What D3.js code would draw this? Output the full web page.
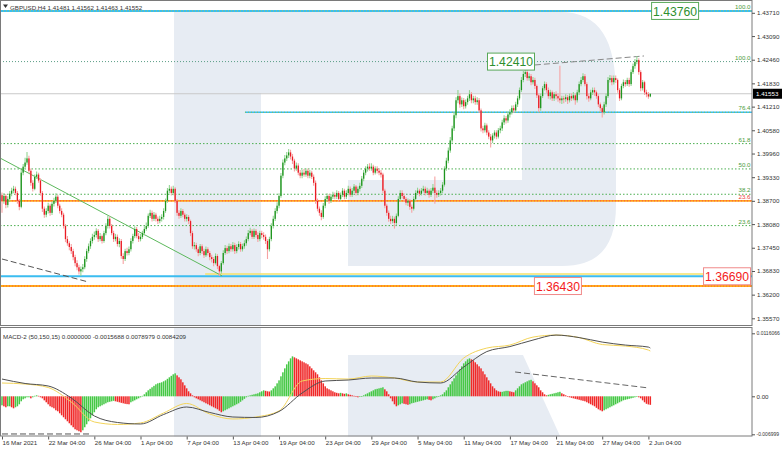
<!DOCTYPE html>
<html><head><meta charset="utf-8">
<script src="https://cdnjs.cloudflare.com/ajax/libs/d3/7.8.5/d3.min.js"></script>
<style>body{margin:0;background:#fff}svg{display:block}text{font-family:"Liberation Sans",Arial,sans-serif}</style>
</head><body><svg id="c" width="782" height="449"></svg>
<script>
// ---------------- DATA ----------------
const symbol = "GBPUSD,H4";
const lastOHLC = ["1.41481","1.41562","1.41463","1.41552"];
const macdTitle = "MACD-2 (50,150,15) 0.0000000 -0.0015688 0.0078979 0.0084209";
const firstOpen = 1.3885;
const closes = [
1.3870,1.3883,1.3859,1.3875,1.3889,1.3897,1.3902,1.3891,1.3870,1.3854,1.3945,1.3961,1.3972,1.3983,1.3950,1.3918,1.3902,1.3934,1.3940,1.3924,1.3891,1.3849,1.3833,1.3843,
1.3857,1.3838,1.3862,1.3870,1.3881,1.3857,1.3843,1.3833,1.3803,1.3768,1.3757,1.3747,1.3736,1.3720,1.3704,1.3693,1.3682,1.3688,1.3693,1.3715,1.3736,1.3749,1.3763,1.3774,
1.3779,1.3790,1.3768,1.3776,1.3763,1.3784,1.3803,1.3822,1.3803,1.3784,1.3768,1.3774,1.3755,1.3763,1.3723,1.3715,1.3736,1.3731,1.3741,1.3763,1.3776,1.3795,1.3776,1.3768,
1.3774,1.3784,1.3795,1.3803,1.3830,1.3838,1.3822,1.3833,1.3822,1.3816,1.3822,1.3827,1.3843,1.3870,1.3897,1.3902,1.3891,1.3902,1.3870,1.3838,1.3830,1.3843,1.3833,1.3822,
1.3827,1.3816,1.3784,1.3749,1.3752,1.3741,1.3731,1.3749,1.3736,1.3725,1.3741,1.3731,1.3720,1.3715,1.3704,1.3723,1.3696,1.3682,1.3704,1.3731,1.3744,1.3736,1.3749,1.3741,
1.3752,1.3736,1.3747,1.3755,1.3741,1.3749,1.3757,1.3768,1.3784,1.3790,1.3774,1.3790,1.3779,1.3768,1.3784,1.3779,1.3774,1.3763,1.3741,1.3768,1.3803,1.3822,1.3843,1.3857,
1.3883,1.3937,1.3972,1.3983,1.3991,1.3999,1.3988,1.3977,1.3956,1.3964,1.3945,1.3937,1.3945,1.3940,1.3950,1.3937,1.3945,1.3934,1.3918,1.3870,1.3849,1.3838,1.3827,1.3857,
1.3875,1.3883,1.3870,1.3881,1.3886,1.3881,1.3891,1.3875,1.3886,1.3897,1.3881,1.3891,1.3902,1.3886,1.3897,1.3908,1.3891,1.3902,1.3910,1.3929,1.3945,1.3956,1.3961,1.3956,
1.3961,1.3945,1.3956,1.3950,1.3945,1.3940,1.3897,1.3857,1.3838,1.3822,1.3816,1.3822,1.3811,1.3830,1.3875,1.3891,1.3883,1.3875,1.3865,1.3870,1.3854,1.3849,1.3875,1.3891,
1.3897,1.3889,1.3897,1.3902,1.3891,1.3897,1.3886,1.3897,1.3905,1.3891,1.3886,1.3891,1.3897,1.3913,1.3956,1.3977,1.4004,1.4031,1.4063,1.4098,1.4138,1.4149,1.4127,1.4138,
1.4122,1.4133,1.4143,1.4154,1.4138,1.4143,1.4133,1.4138,1.4111,1.4063,1.4058,1.4071,1.4052,1.4041,1.4031,1.4044,1.4052,1.4041,1.4058,1.4063,1.4079,1.4090,1.4084,1.4100,
1.4106,1.4117,1.4111,1.4127,1.4143,1.4165,1.4192,1.4208,1.4213,1.4197,1.4202,1.4186,1.4192,1.4176,1.4151,1.4117,1.4149,1.4170,1.4181,1.4165,1.4149,1.4159,1.4143,1.4154,
1.4149,1.4143,1.4138,1.4143,1.4141,1.4146,1.4138,1.4149,1.4143,1.4151,1.4138,1.4159,1.4181,1.4192,1.4202,1.4181,1.4149,1.4143,1.4159,1.4165,1.4159,1.4149,1.4127,1.4117,
1.4106,1.4127,1.4149,1.4192,1.4197,1.4186,1.4197,1.4192,1.4165,1.4143,1.4176,1.4186,1.4181,1.4192,1.4181,1.4213,1.4229,1.4240,1.4245,1.4213,1.4170,1.4186,1.4159,1.4154,1.4148,1.41552];
const highs = [
1.3892,1.3890,1.3888,1.3882,1.3896,1.3905,1.3910,1.3908,1.3896,1.3875,1.3952,1.3968,1.3985,1.4000,1.3990,1.3956,1.3925,1.3940,1.3948,1.3945,1.3930,1.3896,1.3855,1.3850,
1.3865,1.3862,1.3868,1.3878,1.3890,1.3886,1.3862,1.3850,1.3838,1.3808,1.3776,1.3762,1.3755,1.3742,1.3726,1.3712,1.3700,1.3695,1.3702,1.3722,1.3742,1.3756,1.3770,1.3782,
1.3788,1.3797,1.3795,1.3784,1.3780,1.3790,1.3810,1.3830,1.3828,1.3808,1.3790,1.3782,1.3780,1.3770,1.3768,1.3730,1.3742,1.3745,1.3748,1.3770,1.3782,1.3802,1.3800,1.3784,
1.3782,1.3790,1.3802,1.3812,1.3836,1.3846,1.3844,1.3840,1.3838,1.3828,1.3830,1.3834,1.3850,1.3876,1.3904,1.3912,1.3908,1.3910,1.3906,1.3875,1.3845,1.3850,1.3848,1.3838,
1.3834,1.3832,1.3820,1.3790,1.3760,1.3758,1.3746,1.3755,1.3754,1.3742,1.3748,1.3746,1.3736,1.3726,1.3720,1.3730,1.3728,1.3700,1.3710,1.3738,1.3752,1.3750,1.3756,1.3755,
1.3760,1.3758,1.3754,1.3762,1.3760,1.3756,1.3765,1.3775,1.3792,1.3798,1.3795,1.3796,1.3795,1.3786,1.3790,1.3790,1.3786,1.3780,1.3768,1.3774,1.3810,1.3830,1.3850,1.3866,
1.3890,1.3944,1.3980,1.3992,1.4000,1.4008,1.4006,1.3995,1.3982,1.3972,1.3970,1.3952,1.3952,1.3955,1.3957,1.3956,1.3952,1.3950,1.3940,1.3924,1.3876,1.3855,1.3845,1.3864,
1.3882,1.3890,1.3888,1.3888,1.3894,1.3892,1.3898,1.3896,1.3892,1.3904,1.3902,1.3898,1.3910,1.3908,1.3904,1.3915,1.3912,1.3908,1.3918,1.3936,1.3952,1.3962,1.3968,1.3970,
1.3970,1.3966,1.3962,1.3962,1.3956,1.3952,1.3945,1.3902,1.3862,1.3844,1.3830,1.3830,1.3828,1.3836,1.3882,1.3898,1.3898,1.3890,1.3880,1.3876,1.3875,1.3860,1.3882,1.3898,
1.3905,1.3902,1.3904,1.3910,1.3908,1.3905,1.3902,1.3904,1.3915,1.3935,1.3898,1.3898,1.3904,1.3920,1.3962,1.3985,1.4012,1.4040,1.4070,1.4106,1.4146,1.4165,1.4156,1.4145,
1.4144,1.4140,1.4150,1.4165,1.4160,1.4150,1.4150,1.4146,1.4144,1.4116,1.4070,1.4078,1.4076,1.4058,1.4048,1.4050,1.4058,1.4058,1.4064,1.4070,1.4086,1.4098,1.4096,1.4108,
1.4114,1.4124,1.4125,1.4134,1.4150,1.4172,1.4200,1.4216,1.4224,1.4220,1.4210,1.4208,1.4200,1.4198,1.4180,1.4156,1.4156,1.4176,1.4188,1.4186,1.4172,1.4166,1.4164,1.4160,
1.4162,1.4156,1.4230,1.4150,1.4150,1.4154,1.4152,1.4156,1.4156,1.4160,1.4156,1.4166,1.4188,1.4200,1.4210,1.4208,1.4186,1.4156,1.4166,1.4172,1.4172,1.4164,1.4154,1.4132,
1.4122,1.4134,1.4156,1.4200,1.4205,1.4204,1.4204,1.4204,1.4196,1.4170,1.4182,1.4193,1.4192,1.4198,1.4198,1.4220,1.4236,1.4248,1.4256,1.4250,1.4218,1.4192,1.4190,1.4166,1.4160,1.41562];
const lows = [
1.3838,1.3862,1.3850,1.3852,1.3868,1.3882,1.3890,1.3885,1.3862,1.3845,1.3850,1.3938,1.3955,1.3966,1.3944,1.3910,1.3895,1.3898,1.3928,1.3918,1.3884,1.3840,1.3825,1.3826,
1.3836,1.3830,1.3832,1.3855,1.3864,1.3850,1.3836,1.3826,1.3796,1.3760,1.3750,1.3738,1.3728,1.3712,1.3696,1.3685,1.3674,1.3670,1.3680,1.3688,1.3708,1.3730,1.3742,1.3756,
1.3766,1.3772,1.3760,1.3762,1.3756,1.3758,1.3778,1.3796,1.3796,1.3778,1.3760,1.3762,1.3748,1.3746,1.3716,1.3702,1.3710,1.3724,1.3725,1.3735,1.3756,1.3770,1.3770,1.3760,
1.3762,1.3768,1.3778,1.3790,1.3798,1.3824,1.3815,1.3816,1.3815,1.3808,1.3810,1.3815,1.3820,1.3838,1.3865,1.3890,1.3884,1.3885,1.3864,1.3830,1.3822,1.3824,1.3826,1.3815,
1.3815,1.3808,1.3776,1.3742,1.3740,1.3734,1.3722,1.3725,1.3728,1.3718,1.3720,1.3724,1.3712,1.3706,1.3696,1.3700,1.3688,1.3670,1.3676,1.3700,1.3726,1.3728,1.3730,1.3734,
1.3735,1.3728,1.3730,1.3740,1.3734,1.3735,1.3742,1.3750,1.3762,1.3778,1.3768,1.3768,1.3772,1.3760,1.3762,1.3770,1.3766,1.3755,1.3715,1.3735,1.3762,1.3796,1.3816,1.3836,
1.3850,1.3878,1.3930,1.3965,1.3976,1.3984,1.3980,1.3968,1.3948,1.3950,1.3938,1.3930,1.3930,1.3934,1.3934,1.3930,1.3930,1.3928,1.3910,1.3862,1.3842,1.3830,1.3818,1.3822,
1.3850,1.3868,1.3862,1.3864,1.3875,1.3874,1.3875,1.3868,1.3870,1.3880,1.3874,1.3875,1.3885,1.3880,1.3880,1.3890,1.3884,1.3885,1.3895,1.3904,1.3922,1.3938,1.3948,1.3950,
1.3950,1.3938,1.3940,1.3943,1.3938,1.3932,1.3890,1.3850,1.3830,1.3814,1.3808,1.3810,1.3796,1.3805,1.3826,1.3868,1.3876,1.3868,1.3858,1.3856,1.3846,1.3838,1.3844,1.3870,
1.3886,1.3882,1.3884,1.3892,1.3884,1.3886,1.3878,1.3880,1.3890,1.3862,1.3878,1.3880,1.3884,1.3890,1.3908,1.3950,1.3970,1.3998,1.4025,1.4056,1.4090,1.4130,1.4118,1.4120,
1.4114,1.4116,1.4126,1.4136,1.4130,1.4130,1.4126,1.4126,1.4104,1.4055,1.4050,1.4052,1.4045,1.4034,1.4012,1.4024,1.4036,1.4034,1.4036,1.4050,1.4056,1.4072,1.4076,1.4078,
1.4092,1.4100,1.4104,1.4106,1.4120,1.4138,1.4160,1.4186,1.4200,1.4190,1.4190,1.4178,1.4180,1.4168,1.4144,1.4106,1.4110,1.4144,1.4164,1.4158,1.4142,1.4140,1.4136,1.4136,
1.4140,1.4134,1.4130,1.4128,1.4130,1.4134,1.4128,1.4132,1.4136,1.4138,1.4126,1.4132,1.4152,1.4175,1.4186,1.4175,1.4140,1.4134,1.4138,1.4152,1.4150,1.4142,1.4120,1.4108,
1.4092,1.4100,1.4120,1.4144,1.4185,1.4178,1.4180,1.4184,1.4158,1.4136,1.4138,1.4170,1.4174,1.4176,1.4174,1.4176,1.4208,1.4222,1.4234,1.4206,1.4162,1.4164,1.4152,1.4146,1.4142,1.41463];
const macdHist = [
-0.00166,-0.00184,-0.00202,-0.00184,-0.00184,-0.00202,-0.00221,-0.00202,-0.00184,-0.00147,
-0.00092,-0.00055,-0.00037,-0.00018,
-0.00018,-0.00037,-0.00018,0.00009,0.00018,0.00009,
-0.00018,-0.00037,-0.00074,-0.0011,-0.00147,-0.00184,-0.00202,-0.00221,-0.00258,-0.00276,-0.00313,-0.0035,-0.00386,-0.00423,-0.0046,-0.00497,-0.00534,-0.0057,-0.00607,-0.00626,-0.00644,-0.00662,
-0.00626,-0.0057,-0.00515,-0.0046,-0.00405,-0.0035,-0.00294,-0.00239,
-0.00202,-0.00184,-0.00166,-0.00147,-0.00129,-0.0011,-0.00101,-0.00092,-0.00083,
-0.00092,-0.00101,-0.0011,-0.0012,-0.00129,-0.00138,-0.00144,-0.00147,
-0.0011,-0.00092,-0.00074,-0.00055,-0.00037,-0.00018,
0.00009,0.00037,0.00074,0.0011,0.00138,0.00166,0.00193,0.00221,0.00239,0.00248,0.00258,0.00276,0.00294,0.00322,0.0035,0.00377,0.00405,0.00423,
0.00386,0.0035,0.00313,0.00258,0.00202,0.00147,0.00092,0.00055,0.00018,
-0.00018,-0.00037,-0.00055,-0.00074,-0.00092,-0.0011,-0.00129,-0.00147,-0.00166,-0.00184,-0.00202,-0.00221,-0.00239,-0.00267,-0.00294,
-0.00276,-0.00258,-0.00239,-0.00221,-0.00202,-0.00184,-0.00166,-0.00147,-0.00129,-0.00101,-0.00074,-0.00046,-0.00018,
0.00009,0.00018,0.00028,0.00037,0.00046,0.00055,0.00074,0.00092,0.0011,
0.00101,0.00092,0.00088,
0.0011,0.00147,0.00184,0.00239,0.00294,0.00368,0.00442,0.00515,0.00589,0.00644,0.00699,0.00736,
0.00718,0.00699,0.00681,0.00662,0.00644,0.00626,0.00607,0.00589,0.00552,0.00515,0.00478,0.00442,0.00405,0.0035,0.00294,0.00239,0.00184,0.00147,0.00129,0.0011,
0.00092,0.00074,0.00064,0.00055,0.00064,0.00055,0.00046,0.00055,0.00037,0.00028,
0.00018,0.00009,-0.00009,-0.00018,-0.00009,0,0.00018,
0.00037,0.00055,0.00074,0.00092,0.0011,0.00129,0.00138,0.00147,0.00156,0.00166,
0.00129,0.00092,0.00037,
-0.00037,-0.00092,-0.00147,-0.00184,-0.00166,-0.00147,-0.00129,-0.00138,-0.00147,-0.00156,-0.00147,
-0.00129,-0.0012,-0.0011,-0.00101,-0.00092,-0.00083,-0.00074,-0.00064,-0.00055,
-0.00064,-0.00074,-0.00055,-0.00037,-0.00018,0,0.00018,
0.00037,0.00074,0.0011,0.00166,0.00221,0.00276,0.00331,0.00386,0.00442,0.00497,0.00552,0.00607,0.00644,0.00681,0.00699,
0.00681,0.00662,0.00626,0.00589,0.00552,0.00515,0.0046,0.00405,0.0035,0.00294,0.00239,0.00184,0.00147,0.0011,0.00092,0.00083,
0.00083,0.00092,0.00101,0.00101,0.00092,0.00083,0.00074,
0.0011,0.00147,0.00184,0.00221,0.00239,0.00258,0.00276,0.00294,0.00304,
0.00276,0.00239,0.00202,0.00166,0.0011,0.00074,0.00037,0.00018,
0.00028,0.00037,0.00046,0.00055,0.00064,0.00074,0.00083,0.00055,
0.00037,0.00018,0,-0.00018,
-0.00028,-0.00037,-0.00046,-0.00055,-0.00064,-0.00074,-0.00083,-0.00092,-0.0011,-0.00129,-0.00147,-0.00166,-0.00184,-0.00212,-0.00239,-0.00258,-0.00276,
-0.00258,-0.00239,-0.00221,-0.00202,-0.00184,-0.00166,-0.00147,-0.00129,-0.0011,-0.00092,-0.00074,-0.00064,-0.00055,-0.00046,-0.00037,
-0.00028,-0.00018,-0.00009,-0.00018,
-0.00037,-0.00074,-0.0011,-0.00138,-0.0015,-0.00157];
const macdSampleBars = [0,12,24,36,48,60,72,84,96,108,120,132,144,156,168,180,192,204,216,228,240,252,264,276,288,300,312,324,336,337];
const macdMain = [0.00318,0.00236,0.0019,-0.00031,-0.00362,-0.00482,-0.0051,-0.00335,-0.00197,-0.00298,-0.00381,-0.0039,-0.0028,0.00061,0.00282,0.003,0.00337,0.00337,0.00263,0.00245,0.00539,0.00824,0.00916,0.01036,0.01128,0.01082,0.00999,0.00944,0.00907,0.00889];
const macdSignal = [0.00245,0.00226,0.00162,-0.00105,-0.00473,-0.00519,-0.00491,-0.00307,-0.00132,-0.00326,-0.00418,-0.00381,-0.0027,0.00282,0.00328,0.00318,0.00374,0.00337,0.00263,0.00263,0.00705,0.00889,0.00944,0.01091,0.01128,0.01082,0.00953,0.00926,0.00852,0.00834];
const timeTickBars = [0,24,48,72,96,120,144,168,192,216,240,264,288,312,336];
const timeLabels = ["16 Mar 2021","22 Mar 04:00","26 Mar 04:00","1 Apr 04:00","7 Apr 04:00","13 Apr 04:00","19 Apr 04:00","23 Apr 04:00","29 Apr 04:00","5 May 04:00","11 May 04:00","17 May 04:00","21 May 04:00","27 May 04:00","2 Jun 04:00"];
const priceTicks = [1.43710,1.43090,1.42460,1.41830,1.41210,1.40580,1.39960,1.39330,1.38700,1.38080,1.37450,1.36830,1.36200,1.35570];
const macdTicks = [0.0116066,0,-0.006999];
const macdTickLabels = ["0.0116066","0.00","-0.006999"];
const bidPrice = 1.41553;
const fibPrices = [1.43760,1.42410,1.41060,1.40225,1.39550,1.38875,1.38700,1.38040];
const fibLabels = ["100.0","100.0","76.4","61.8","50.0","38.2","23.6","23.6"];
const levelBoxes = [{bar:337.4,price:1.43760,text:"1.43760",kind:"g"},{bar:252.1,price:1.42410,text:"1.42410",kind:"g"},{bar:364.4,price:1.36690,text:"1.36690",kind:"r"},{bar:276.5,price:1.36430,text:"1.36430",kind:"r"}];
const trendGreen = {bars:[-1,114.4], prices:[1.3984,1.3670]};
const trendLowDash = {bars:[0,44.7], prices:[1.3715,1.3654]};
const trendTopDash = {bars:[277,333.7], prices:[1.4232,1.4256]};
const macdDashLow = {bars:[0,45.7], values:[-0.00694,-0.00694]};
const macdDashTop = {bars:[266.7,336.3], values:[0.00448,0.00153]};

// ---------------- DRAW ----------------
const svg = d3.select("#c");
const PR = 752, MAIN_B = 325, M_T = 328, M_B = 436.5;
const x = d3.scaleLinear().domain([0,336]).range([2,648.4]);
const y = d3.scaleLinear().domain([1.35570,1.43710]).range([318.3,12.8]);
const ym = d3.scaleLinear().domain([-0.006999,0.0116066]).range([434.3,333.3]);
const FS = 6.2;

const defs = svg.append("defs");
defs.append("clipPath").attr("id","cm").append("rect").attr("x",1).attr("y",1).attr("width",PR-1).attr("height",MAIN_B-1);
defs.append("clipPath").attr("id","cd").append("rect").attr("x",1).attr("y",M_T).attr("width",PR-1).attr("height",M_B-M_T);

svg.append("rect").attr("width",782).attr("height",449).attr("fill","#fff");

// watermark
const wmC = "#e7ecf3";
const wm1 = svg.append("g").attr("clip-path","url(#cm)");
wm1.append("rect").attr("x",174).attr("y",12).attr("width",87).attr("height",320).attr("fill",wmC);
wm1.append("path").attr("fill",wmC).attr("d","M261,12 H560 C600,12 616,40 616,95 V205 C616,245 600,266 562,266 H348 V180 H522 V93 H261 Z");
const wm2 = svg.append("g").attr("clip-path","url(#cd)");
wm2.append("rect").attr("x",174).attr("y",M_T).attr("width",87).attr("height",120).attr("fill",wmC);
wm2.append("path").attr("fill",wmC).attr("d","M348,355 H523 L566,449 H348 Z");

const gm = svg.append("g").attr("clip-path","url(#cm)");
const hline = (p, color, w, dash, x0) => gm.append("line").attr("x1",x0==null?0:x0).attr("x2",PR).attr("y1",y(p)).attr("y2",y(p))
  .attr("stroke",color).attr("stroke-width",w).attr("stroke-dasharray",dash||null);

// horizontal levels
hline(1.43760,"#3bbdf0",2);
hline(1.43760,"#9ccc65",1,"1,2");
hline(fibPrices[1],"#5b9e86",1,"1,2");
hline(bidPrice,"#c9c9c9",1);
hline(fibPrices[2],"#3bbdf0",1.6,null,x(126.3));
hline(fibPrices[2],"#8bc34a",1,"1,2",x(126.3));
[3,4,5,7].forEach(k=>hline(fibPrices[k],"#4caf50",1,"1.5,2"));
hline(fibPrices[6],"#ffa31a",1.6);
hline(fibPrices[6],"#ff4d4d",1,"1,2");
hline(1.3675,"#f4e26a",1.5,null,x(105.6));
hline(1.36690,"#3bbdf0",2);
hline(1.36430,"#ffab1a",2);
hline(1.36430,"#ff5a3c",1,"1,2");

// fib labels
fibPrices.forEach((p,i)=>{
  gm.append("text").attr("x",PR-1.5).attr("y",y(p)-1.8).attr("text-anchor","end")
    .attr("font-size",FS).attr("fill", i===6 ? "#f03c3c" : "#4c9c3c").text(fibLabels[i]);
});

// trend lines
const seg = (g, o, sy, color, w, dash) => g.append("line")
  .attr("x1",x(o.bars[0])).attr("x2",x(o.bars[1]))
  .attr("y1",sy((o.prices||o.values)[0])).attr("y2",sy((o.prices||o.values)[1]))
  .attr("stroke",color).attr("stroke-width",w).attr("stroke-dasharray",dash||null);
seg(gm, trendGreen, y, "#5cb85c", 1);
seg(gm, trendLowDash, y, "#555", 1, "6,3");
seg(gm, trendTopDash, y, "#888", 1, "6,3");

// candles
const opens = closes.map((c,i)=> i===0 ? firstOpen : closes[i-1]);
const candles = closes.map((c,i)=>({i, o:opens[i], h:highs[i], l:lows[i], c}));
const cg = gm.append("g");
cg.selectAll("line.w").data(candles).join("line")
  .attr("x1",d=>x(d.i)).attr("x2",d=>x(d.i)).attr("y1",d=>y(d.h)).attr("y2",d=>y(d.l))
  .attr("stroke",d=>d.c>=d.o?"#93d493":"#f6a3a3").attr("stroke-width",1.1);
cg.selectAll("rect").data(candles).join("rect")
  .attr("x",d=>x(d.i)-0.65).attr("width",1.3)
  .attr("y",d=>y(Math.max(d.o,d.c)))
  .attr("height",d=>Math.max(1,Math.abs(y(d.o)-y(d.c))))
  .attr("fill",d=>d.c>=d.o?"#1f951f":"#ea1b24");

// level boxes
levelBoxes.forEach(b=>{
  const g = svg.append("g");
  const bx = x(b.bar), cy = y(b.price);
  const stroke = b.kind==="g" ? "#58a858" : "#f08a8a";
  const fill = b.kind==="g" ? "#2e8f2e" : "#f41c1c";
  g.append("rect").attr("x",bx+0.5).attr("y",cy-8.5).attr("width",47).attr("height",17)
    .attr("fill","#fff").attr("stroke",stroke).attr("stroke-width",1);
  g.append("text").attr("x",bx+24).attr("y",cy+4.6).attr("text-anchor","middle")
    .attr("font-size",12.2).attr("fill",fill).text(b.text);
});

// MACD panel
const gd = svg.append("g").attr("clip-path","url(#cd)");
const y0 = ym(0);
gd.selectAll("rect").data(macdHist).join("rect")
  .attr("x",(v,i)=>x(i)-0.75).attr("width",1.5)
  .attr("y",v=>Math.min(ym(v),y0)).attr("height",v=>Math.max(0.6,Math.abs(ym(v)-y0)))
  .attr("fill",(v,i)=> (i===0 || v>=macdHist[i-1]) ? "#45c845" : "#f02828");
const ln = d3.line().x(d=>x(d[0])).y(d=>ym(d[1])).curve(d3.curveMonotoneX);
gd.append("path").attr("d",ln(macdSampleBars.map((b,i)=>[b,macdSignal[i]]))).attr("fill","none").attr("stroke","#f3d45a").attr("stroke-width",1);
gd.append("path").attr("d",ln(macdSampleBars.map((b,i)=>[b,macdMain[i]]))).attr("fill","none").attr("stroke","#505050").attr("stroke-width",1);
seg(gd, macdDashLow, ym, "#555", 1, "6,3");
seg(gd, macdDashTop, ym, "#666", 1, "6,3");

// borders
svg.append("rect").attr("x",0.5).attr("y",0.5).attr("width",PR-0.5).attr("height",MAIN_B).attr("fill","none").attr("stroke","#7a7a7a").attr("stroke-width",1);
svg.append("rect").attr("x",0.5).attr("y",M_T-0.5).attr("width",PR-0.5).attr("height",M_B-M_T).attr("fill","none").attr("stroke","#7a7a7a").attr("stroke-width",1);

// price axis
const pa = svg.append("g").attr("transform",`translate(${PR},0)`)
  .call(d3.axisRight(y).tickValues(priceTicks).tickSize(3).tickPadding(2).tickFormat(d3.format(".5f")));
pa.select(".domain").remove();
pa.selectAll("line").attr("stroke","#555");
pa.selectAll("text").attr("font-size",FS).attr("fill","#333").attr("font-family","Liberation Sans, Arial");

// bid box
svg.append("rect").attr("x",PR+1).attr("y",y(bidPrice)-5).attr("width",29).attr("height",10).attr("fill","#000");
svg.append("text").attr("x",PR+4).attr("y",y(bidPrice)+2.3).attr("font-size",FS).attr("fill","#fff").text(bidPrice.toFixed(5));

// macd axis (long labels set smaller so they fit inside the window)
const ma = svg.append("g").attr("transform",`translate(${PR},0)`)
  .call(d3.axisRight(ym).tickValues(macdTicks).tickSize(3).tickPadding(1.5).tickFormat((d,i)=>macdTickLabels[i]));
ma.select(".domain").remove();
ma.selectAll("line").attr("stroke","#555");
ma.selectAll("text").attr("fill","#333").attr("font-family","Liberation Sans, Arial")
  .attr("font-size",(d,i)=> macdTickLabels[i].length>5 ? 5.0 : FS);

// time axis
const ta = svg.append("g").attr("transform",`translate(0,${M_B})`)
  .call(d3.axisBottom(x).tickValues(timeTickBars).tickSize(3).tickPadding(1).tickFormat((d,i)=>timeLabels[i]));
ta.select(".domain").remove();
ta.selectAll("line").attr("stroke","#555");
ta.selectAll("text").attr("font-size",FS).attr("fill","#333").attr("text-anchor","start").attr("font-family","Liberation Sans, Arial");

// headers
svg.append("path").attr("d","M3,4.5 L8,4.5 L5.5,8 Z").attr("fill","#333");
svg.append("text").attr("x",10).attr("y",9.5).attr("font-size",FS).attr("fill","#333")
  .text(symbol+"  "+lastOHLC.join(" "));
svg.append("text").attr("x",3).attr("y",339).attr("font-size",FS).attr("fill","#333").text(macdTitle);

// data sanity
const n = closes.length;
if (highs.length!==n || lows.length!==n || macdHist.length!==n) {
  svg.append("text").attr("x",300).attr("y",20).attr("fill","magenta").attr("font-size",10)
    .text(`len c${n} h${highs.length} l${lows.length} m${macdHist.length}`);
}
</script></body></html>
